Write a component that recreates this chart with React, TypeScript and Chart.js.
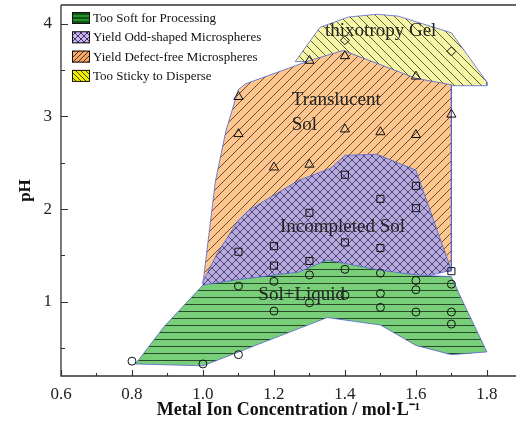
import React, { useEffect, useRef } from 'react';
import { Chart, registerables } from 'chart.js';

Chart.register(...registerables);

// ---- axes ----
const xTicks = [0.6, 0.8, 1.0, 1.2, 1.4, 1.6, 1.8];
const xMinorTicks = [0.7, 0.9, 1.1, 1.3, 1.5, 1.7];
const yTicks = [1, 2, 3, 4];
const yMinorTicks = [0.5, 1.5, 2.5, 3.5];

// ---- regions (polygons) ----
const tooSoftX = [0.81, 0.89, 1.0, 1.1, 1.27, 1.35, 1.5, 1.6, 1.7, 1.73, 1.8, 1.7, 1.6, 1.5, 1.35, 1.0, 0.81];
const tooSoftY = [0.33, 0.73, 1.18, 1.24, 1.32, 1.45, 1.34, 1.29, 1.27, 1.02, 0.46, 0.43, 0.53, 0.75, 0.83, 0.31, 0.33];

const oddShapedX = [1.0, 1.04, 1.1, 1.13, 1.27, 1.36, 1.4, 1.49, 1.6, 1.62, 1.7, 1.6, 1.5, 1.35, 1.27, 1.1, 1.0, 1.0];
const oddShapedY = [1.22, 1.52, 1.88, 1.99, 2.31, 2.44, 2.58, 2.59, 2.42, 2.2, 1.34, 1.25, 1.3, 1.4, 1.28, 1.2, 1.15, 1.22];

const defectFreeX = [1.0, 1.035, 1.065, 1.1, 1.12, 1.3, 1.395, 1.6, 1.7, 1.7, 1.0];
const defectFreeY = [1.2, 2.3, 2.85, 3.29, 3.35, 3.6, 3.71, 3.41, 3.34, 1.33, 1.2];

const stickyX = [1.26, 1.33, 1.41, 1.49, 1.55, 1.7, 1.8, 1.8, 1.7, 1.6, 1.4, 1.3, 1.26];
const stickyY = [3.59, 3.96, 4.07, 4.1, 4.08, 3.9, 3.37, 3.33, 3.33, 3.4, 3.7, 3.59, 3.59];

// ---- experimental points ----
const solLiquidX = [0.8, 1.0, 1.1, 1.1, 1.2, 1.2, 1.3, 1.3, 1.4, 1.4, 1.5, 1.5, 1.5, 1.6, 1.6, 1.6, 1.7, 1.7, 1.7];
const solLiquidY = [0.36, 0.33, 0.43, 1.17, 1.22, 0.9, 1.29, 0.99, 1.35, 1.07, 1.31, 1.09, 0.94, 1.23, 1.13, 0.89, 1.19, 0.89, 0.76];

const incompleteX = [1.1, 1.2, 1.2, 1.3, 1.3, 1.4, 1.4, 1.5, 1.5, 1.6, 1.6, 1.7];
const incompleteY = [1.54, 1.6, 1.39, 1.96, 1.44, 2.37, 1.64, 2.11, 1.58, 2.25, 2.01, 1.33];

const translucentX = [1.1, 1.1, 1.2, 1.3, 1.3, 1.4, 1.4, 1.5, 1.6, 1.6, 1.7];
const translucentY = [3.21, 2.81, 2.45, 3.6, 2.48, 3.65, 2.86, 2.83, 3.43, 2.8, 3.02];

const gelX = [1.4, 1.7];
const gelY = [3.82, 3.7];

// ---- texts ----
const legendLabels = [
  'Too Soft for Processing',
  'Yield Odd-shaped Microspheres',
  'Yield Defect-free Microspheres',
  'Too Sticky to Disperse',
];
const regionLabels = ['thixotropy Gel', 'Translucent', 'Sol', 'Incompleted Sol', 'Sol+Liquid'];
const regionLabelX = [1.344, 1.25, 1.25, 1.217, 1.156];
const regionLabelY = [3.863, 3.12, 2.85, 1.754, 1.018];

const FONT = "'Liberation Serif', 'Times New Roman', serif";

const pts = (xs: number[], ys: number[]) => xs.map((x, i) => ({ x, y: ys[i] }));

function makePattern(bg: string, kind: string, size: number, line: string, lw: number) {
  const c = document.createElement('canvas');
  c.width = size;
  c.height = size;
  const g = c.getContext('2d')!;
  g.fillStyle = bg;
  g.fillRect(0, 0, size, size);
  g.strokeStyle = line;
  g.lineWidth = lw;
  g.beginPath();
  if (kind === 'h') {
    g.moveTo(0, size / 2);
    g.lineTo(size, size / 2);
  }
  if (kind === 'f' || kind === 'x') {
    g.moveTo(-1, size + 1);
    g.lineTo(size + 1, -1);
    g.moveTo(-size / 2 - 1, size / 2 + 1);
    g.lineTo(size / 2 + 1, -size / 2 - 1);
    g.moveTo(size / 2 - 1, size * 1.5 + 1);
    g.lineTo(size * 1.5 + 1, size / 2 - 1);
  }
  if (kind === 'b' || kind === 'x') {
    g.moveTo(-1, -1);
    g.lineTo(size + 1, size + 1);
    g.moveTo(-size / 2 - 1, size / 2 - 1);
    g.lineTo(size / 2 + 1, size * 1.5 + 1);
    g.moveTo(size / 2 - 1, -size / 2 - 1);
    g.lineTo(size * 1.5 + 1, size / 2 + 1);
  }
  g.stroke();
  return g.createPattern(c, 'repeat')!;
}

export default function App() {
  const ref = useRef<HTMLCanvasElement>(null);

  useEffect(() => {
    const canvas = ref.current!;
    const greenFill = makePattern('#79cf79', 'h', 7, 'rgba(20,40,20,0.8)', 1);
    const purpleFill = makePattern('#b6aade', 'x', 8, 'rgba(40,30,70,0.8)', 0.9);
    const orangeFill = makePattern('#fcc68e', 'f', 9, 'rgba(60,40,20,0.85)', 0.9);
    const yellowFill = makePattern('#f6f6a8', 'b', 9, 'rgba(50,50,20,0.85)', 0.9);

    const legendFills = [
      makePattern('#22962a', 'h', 4, 'rgba(0,0,0,0.9)', 1),
      makePattern('#cdb6f2', 'x', 6, 'rgba(30,20,60,0.9)', 0.9),
      makePattern('#f6a868', 'f', 5, 'rgba(40,20,0,0.9)', 0.9),
      makePattern('#f0f000', 'b', 5, 'rgba(30,30,0,0.9)', 0.9),
    ];

    const regionBorder = '#5463cf';
    const region = (label: string, xs: number[], ys: number[], fill: any, order: number) => ({
      label,
      data: pts(xs, ys),
      showLine: true,
      fill: 'shape',
      backgroundColor: fill,
      borderColor: regionBorder,
      borderWidth: 0.8,
      pointRadius: 0,
      tension: 0,
      order,
    });
    const marker = (label: string, xs: number[], ys: number[], style: string, r: number) => ({
      label,
      data: pts(xs, ys),
      showLine: false,
      pointStyle: style,
      pointRadius: r,
      pointBorderColor: '#111',
      pointBackgroundColor: 'rgba(0,0,0,0)',
      pointBorderWidth: 1,
      order: 0,
    });

    const frame = {
      id: 'frame',
      afterDraw(chart: any) {
        const { ctx, chartArea: a, scales } = chart;
        const x = scales.x;
        const y = scales.y;
        ctx.save();
        ctx.strokeStyle = '#333';
        ctx.lineWidth = 1.3;
        ctx.beginPath();
        ctx.moveTo(a.left, a.top);
        ctx.lineTo(a.right, a.top);
        ctx.moveTo(a.left, a.top);
        ctx.lineTo(a.left, a.bottom);
        ctx.lineTo(a.right, a.bottom);
        ctx.stroke();
        ctx.lineWidth = 1.1;
        ctx.beginPath();
        xTicks.forEach((v) => {
          const p = Math.round(x.getPixelForValue(v)) + 0.5;
          ctx.moveTo(p, a.bottom);
          ctx.lineTo(p, a.bottom - 6);
        });
        xMinorTicks.forEach((v) => {
          const p = Math.round(x.getPixelForValue(v)) + 0.5;
          ctx.moveTo(p, a.bottom);
          ctx.lineTo(p, a.bottom - 3);
        });
        yTicks.forEach((v) => {
          const p = Math.round(y.getPixelForValue(v)) + 0.5;
          ctx.moveTo(a.left, p);
          ctx.lineTo(a.left + 7, p);
        });
        yMinorTicks.forEach((v) => {
          const p = Math.round(y.getPixelForValue(v)) + 0.5;
          ctx.moveTo(a.left, p);
          ctx.lineTo(a.left + 4, p);
        });
        ctx.stroke();

        // legend
        ctx.font = `13px ${FONT}`;
        ctx.textBaseline = 'middle';
        ctx.textAlign = 'left';
        legendLabels.forEach((lab, i) => {
          const bx = a.left + 11;
          const cy = a.top + 13 + i * 19.3;
          ctx.fillStyle = legendFills[i];
          ctx.fillRect(bx, cy - 6, 18, 12);
          ctx.strokeStyle = '#111';
          ctx.lineWidth = 1;
          ctx.strokeRect(bx + 0.5, cy - 5.5, 17, 11);
          ctx.fillStyle = '#111';
          ctx.fillText(lab, bx + 21, cy + 0.5);
        });
        ctx.restore();
      },
      afterDatasetsDraw(chart: any) {
        const { ctx, scales } = chart;
        ctx.save();
        ctx.font = `19px ${FONT}`;
        ctx.fillStyle = '#222';
        ctx.textAlign = 'left';
        ctx.textBaseline = 'alphabetic';
        regionLabels.forEach((t, i) => {
          ctx.fillText(t, scales.x.getPixelForValue(regionLabelX[i]), scales.y.getPixelForValue(regionLabelY[i]));
        });
        ctx.restore();
      },
    };

    const chart = new Chart(canvas, {
      type: 'line',
      data: {
        datasets: [
          marker('Sol+Liquid', solLiquidX, solLiquidY, 'circle', 4),
          marker('Incompleted Sol', incompleteX, incompleteY, 'rect', 5),
          marker('Translucent Sol', translucentX, translucentY, 'triangle', 5.3),
          marker('thixotropy Gel', gelX, gelY, 'rectRot', 4.5),
          region(legendLabels[0], tooSoftX, tooSoftY, greenFill, 1),
          region(legendLabels[1], oddShapedX, oddShapedY, purpleFill, 2),
          region(legendLabels[2], defectFreeX, defectFreeY, orangeFill, 3),
          region(legendLabels[3], stickyX, stickyY, yellowFill, 4),
        ] as any,
      },
      options: {
        animation: false,
        responsive: false,
        events: [],
        layout: { autoPadding: false, padding: { top: 5, left: 0, right: 0, bottom: 0 } },
        plugins: {
          legend: { display: false },
          tooltip: { enabled: false },
        },
        scales: {
          x: {
            type: 'linear',
            min: 0.6,
            max: 1.882,
            afterBuildTicks: (s: any) => {
              s.ticks = xTicks.map((v) => ({ value: v }));
            },
            afterFit: (s: any) => {
              s.height = 46;
              s.paddingLeft = 0;
              s.paddingRight = 0;
            },
            grid: { display: false, drawTicks: false },
            border: { display: false },
            ticks: {
              padding: 8,
              color: '#222',
              font: { family: FONT, size: 17 },
              maxRotation: 0,
              autoSkip: false,
              callback: (v: any) => Number(v).toFixed(1),
            },
            title: {
              display: true,
              text: 'Metal Ion Concentration / mol·L⁻¹',
              color: '#111',
              font: { family: FONT, size: 18, weight: 'bold' },
              padding: { top: 0, bottom: 1 },
            },
          },
          y: {
            type: 'linear',
            min: 0.2,
            max: 4.2,
            afterBuildTicks: (s: any) => {
              s.ticks = yTicks.map((v) => ({ value: v }));
            },
            afterFit: (s: any) => {
              s.width = 61;
              s.paddingTop = 0;
              s.paddingBottom = 0;
            },
            grid: { display: false, drawTicks: false },
            border: { display: false },
            ticks: {
              padding: 9,
              color: '#222',
              font: { family: FONT, size: 17 },
              autoSkip: false,
              callback: (v: any) => String(v),
            },
            title: {
              display: true,
              text: 'pH',
              color: '#111',
              font: { family: FONT, size: 17, weight: 'bold' },
              padding: { top: 15, bottom: 0 },
            },
          },
        },
      } as any,
      plugins: [frame],
    });
    return () => chart.destroy();
  }, []);

  return (
    <canvas
      ref={ref}
      width={516}
      height={422}
      style={{ position: 'fixed', left: 0, top: 0, width: 516, height: 422, display: 'block', background: '#fff' }}
    />
  );
}
